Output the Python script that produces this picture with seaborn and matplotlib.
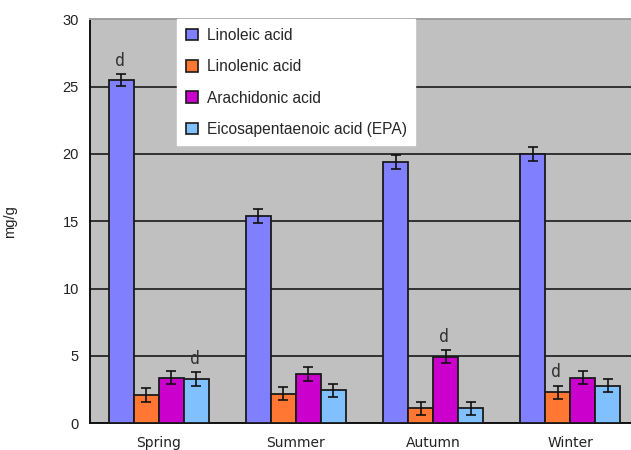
import pandas as pd
import numpy as np
import seaborn as sns
import matplotlib.pyplot as plt
from matplotlib.patches import Patch

# Values (mg/g), one list per fatty acid, by season
seasons = ["Spring", "Summer", "Autumn", "Winter"]
acids = ["Linoleic acid", "Linolenic acid", "Arachidonic acid",
         "Eicosapentaenoic acid (EPA)"]
linoleic = [25.5, 15.4, 19.4, 20.0]
linolenic = [2.1, 2.2, 1.1, 2.3]
arachidonic = [3.4, 3.65, 4.95, 3.4]
epa = [3.3, 2.45, 1.1, 2.8]
linoleic_err = [0.45, 0.5, 0.5, 0.5]
linolenic_err = [0.5, 0.5, 0.5, 0.5]
arachidonic_err = [0.5, 0.5, 0.5, 0.5]
epa_err = [0.5, 0.5, 0.5, 0.5]
# significance letters: (acid, season, letter)
letters = [("Linoleic acid", "Spring", "d"),
           ("Eicosapentaenoic acid (EPA)", "Spring", "d"),
           ("Arachidonic acid", "Autumn", "d"),
           ("Linolenic acid", "Winter", "d")]

colors = ["#8080ff", "#ff7733", "#cc00cc", "#80c0ff"]

values = [linoleic, linolenic, arachidonic, epa]
errors = [linoleic_err, linolenic_err, arachidonic_err, epa_err]
rows = []
for acid, vals, errs in zip(acids, values, errors):
    for s, v, e in zip(seasons, vals, errs):
        rows.append({"season": s, "acid": acid, "value": v, "err": e})
df = pd.DataFrame(rows)

sns.set_style("white")
plt.rcParams["font.family"] = ["Liberation Sans", "DejaVu Sans"]

fig = plt.figure(figsize=(6.31, 4.5), dpi=100)
ax = fig.add_axes([90 / 631, 26.7 / 450, 549 / 631, 404 / 450])
ax.set_facecolor("#c0c0c0")

sns.barplot(data=df, x="season", y="value", hue="acid", order=seasons,
            hue_order=acids, palette=colors, width=0.73, errorbar=None,
            edgecolor="#1a1a1a", linewidth=1.3, saturation=1, ax=ax,
            legend=False, zorder=3)

# error bars and letters on top of each bar
for acid, cont in zip(acids, ax.containers):
    sub = df[df["acid"] == acid].set_index("season").loc[seasons]
    xs = [p.get_x() + p.get_width() / 2 for p in cont.patches]
    ax.errorbar(xs, sub["value"], yerr=sub["err"], fmt="none",
                ecolor="#111111", elinewidth=1.2, capsize=3.5,
                capthick=1.2, zorder=4)
    for a, s, lab in letters:
        if a == acid:
            i = seasons.index(s)
            top = sub["value"].iloc[i] + sub["err"].iloc[i]
            ax.annotate(lab, (xs[i], top), xytext=(-1, 3),
                        textcoords="offset points", ha="center",
                        va="bottom", fontsize=12, color="#333333",
                        family="DejaVu Sans Mono")

ax.set_ylim(0, 30)
ax.set_xlim(-0.5, 3.5)
ax.set_yticks(range(0, 31, 5))
ax.yaxis.grid(True, color="#1a1a1a", linewidth=1.2)
ax.set_axisbelow(True)

ax.set_xticks([-0.5, 0.5, 1.5, 2.5], minor=True)
ax.tick_params(axis="x", which="major", length=0, pad=9, labelsize=10,
               labelcolor="#222222")
ax.tick_params(axis="x", which="minor", length=6, width=1.2,
               direction="out", color="#111111")
ax.tick_params(axis="y", length=7, width=1.2, direction="out",
               color="#111111", labelsize=10.5, pad=1, labelcolor="#222222")
for lab in ax.get_xticklabels():
    lab.set_family("DejaVu Sans")

for side in ["left", "bottom"]:
    ax.spines[side].set_color("#111111")
    ax.spines[side].set_linewidth(1.4)
ax.spines["top"].set_color("#a0a0a0")
ax.spines["top"].set_linewidth(1.4)
ax.spines["right"].set_visible(False)

ax.set_xlabel("")
ax.set_ylabel("mg/g", fontsize=10.5, color="#222222")
ax.yaxis.set_label_coords(-(90 - 17) / 549, 0.5)

handles = [Patch(facecolor=c, edgecolor="#1a1a1a", linewidth=1.2)
           for c in colors]
leg = ax.legend(handles, acids, loc="upper left",
                bbox_to_anchor=(87 / 549, 1.0), fontsize=11.2,
                frameon=True, fancybox=False, borderpad=0.55,
                labelspacing=1.05, handlelength=0.8, handleheight=0.8,
                handletextpad=0.55, borderaxespad=0)
leg.get_frame().set_facecolor("white")
leg.get_frame().set_edgecolor("white")
leg.get_frame().set_alpha(1)
leg.set_zorder(10)

plt.savefig("out.png", dpi=100)
